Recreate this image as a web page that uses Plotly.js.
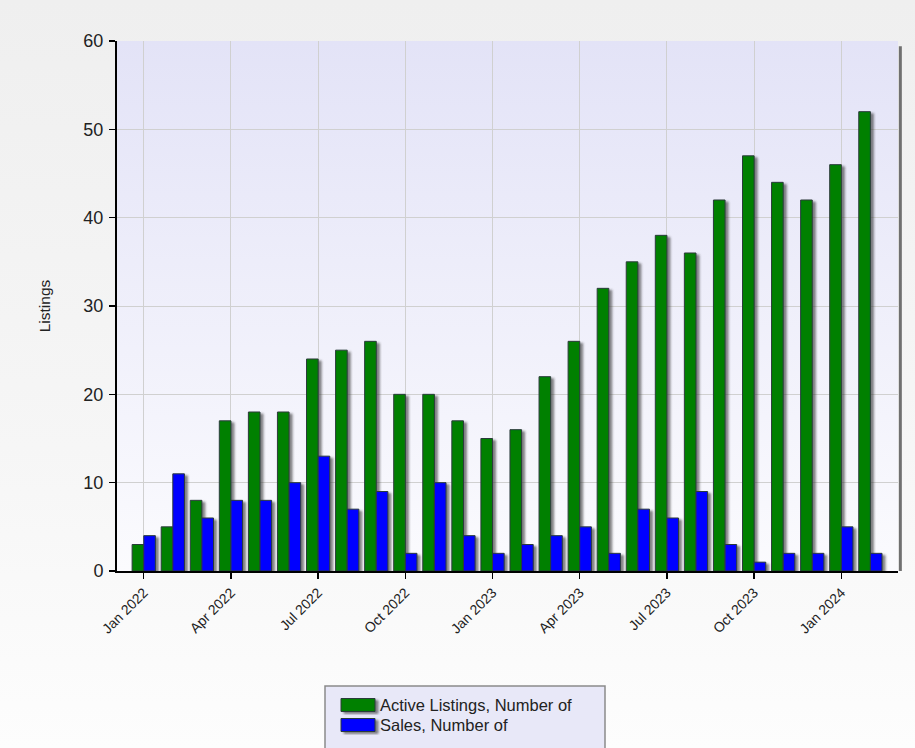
<!DOCTYPE html>
<html>
<head>
<meta charset="utf-8">
<script src="https://cdn.plot.ly/plotly-3.0.1.min.js"></script>
<style>
html, body { margin:0; padding:0; }
body { width:915px; height:748px; overflow:hidden; background: linear-gradient(to bottom, #efefef 0%, #f6f6f6 60%, #fdfdfd 100%); }
#chart { width:915px; height:748px; }
</style>
</head>
<body>
<div id="chart"></div>
<script>
const months = ['Jan 2022','Feb 2022','Mar 2022','Apr 2022','May 2022','Jun 2022','Jul 2022','Aug 2022','Sep 2022','Oct 2022','Nov 2022','Dec 2022',
  'Jan 2023','Feb 2023','Mar 2023','Apr 2023','May 2023','Jun 2023','Jul 2023','Aug 2023','Sep 2023','Oct 2023','Nov 2023','Dec 2023',
  'Jan 2024','Feb 2024'];
const activeListings = [3,5,8,17,18,18,24,25,26,20,20,17,15,16,22,26,32,35,38,36,42,47,44,42,46,52];
const sales = [4,11,6,8,8,10,13,7,9,2,10,4,2,3,4,5,2,7,6,9,3,1,2,2,5,2];
const tickLabels = ['Jan 2022','Apr 2022','Jul 2022','Oct 2022','Jan 2023','Apr 2023','Jul 2023','Oct 2023','Jan 2024'];
const yTicks = [0,10,20,30,40,50,60];

const gradSvg = "<svg xmlns='http://www.w3.org/2000/svg' width='10' height='100' preserveAspectRatio='none'>" +
  "<defs><linearGradient id='g' x1='0' y1='0' x2='0' y2='1'>" +
  "<stop offset='0' stop-color='#e3e3f7'/><stop offset='1' stop-color='#fbfbfe'/></linearGradient></defs>" +
  "<rect width='10' height='100' fill='url(#g)'/></svg>";
const gradUri = 'data:image/svg+xml;charset=utf-8,' + encodeURIComponent(gradSvg);

const traces = [
  { type:'bar', name:'Active Listings, Number of', x: months, y: activeListings,
    marker:{ color:'#008000', line:{ color:'#2b3b3b', width:1 } } },
  { type:'bar', name:'Sales, Number of', x: months, y: sales,
    marker:{ color:'#0000ff', line:{ color:'#2b3b3b', width:1 } } }
];

const layout = {
  width:915, height:748,
  margin:{ l:117, r:17, t:41, b:177 },
  paper_bgcolor:'rgba(0,0,0,0)',
  plot_bgcolor:'rgba(0,0,0,0)',
  font:{ family:'Liberation Sans, Arial, sans-serif', color:'#222' },
  barmode:'group', bargap:0.2, bargroupgap:0,
  showlegend:true,
  legend:{ x:(340-117)/781, xanchor:'left', y:-(674-571)/530, yanchor:'top', bgcolor:'rgba(0,0,0,0)',
    font:{ size:16.5, color:'#222' }, tracegroupgap:0 },
  xaxis:{ type:'category', range:[-0.92, 25.95], tickmode:'array', tickvals: tickLabels, ticktext: tickLabels,
    automargin:false,
    tickangle:-45, tickfont:{ size:14, color:'#222' }, ticks:'outside', ticklen:6, tickcolor:'#000', tickwidth:1.5,
    showline:true, linecolor:'#000', linewidth:2, showgrid:true, gridcolor:'#d0d0d0', gridwidth:1, zeroline:false },
  yaxis:{ range:[0,60], tickmode:'array', tickvals: yTicks, tickfont:{ size:18, color:'#222' },
    automargin:false, ticklabelstandoff:2,
    ticks:'outside', ticklen:6, tickcolor:'#000', tickwidth:1.5,
    showline:true, linecolor:'#000', linewidth:2, showgrid:true, gridcolor:'#d0d0d0', gridwidth:1, zeroline:false,
    title:{ text:'Listings', font:{ size:15.5, color:'#222' }, standoff:29 } },
  images:[{ source: gradUri, xref:'paper', yref:'paper', x:0, y:1, sizex:1, sizey:1,
    xanchor:'left', yanchor:'top', sizing:'stretch', layer:'below' }],
  shapes:[
    { type:'line', xref:'paper', yref:'paper', x0:1.003, x1:1.003, y0:0, y1:0.99, line:{ color:'#707070', width:3 } },
    { type:'rect', xref:'paper', yref:'paper', x0:(325-117)/781, x1:(605-117)/781, y0:-0.37, y1:-(686-571)/530,
      fillcolor:'#e8e8f8', line:{ color:'#8a8a8a', width:1.5 }, layer:'below' }
  ]
};

function getTranslate(el){
  const t = el.getAttribute('transform') || '';
  const m = /translate\(\s*([-\d.e]+)[ ,]+([-\d.e]+)\s*\)/.exec(t);
  return m ? [parseFloat(m[1]), parseFloat(m[2])] : [0,0];
}

Plotly.newPlot('chart', traces, layout, { staticPlot:true }).then(function(gd){
  const svg = gd.querySelector('svg.main-svg');
  const NS = 'http://www.w3.org/2000/svg';
  let defs = svg.querySelector('defs');
  if (!defs) { defs = document.createElementNS(NS,'defs'); svg.insertBefore(defs, svg.firstChild); }
  const f = document.createElementNS(NS,'filter');
  f.setAttribute('id','barshadow'); f.setAttribute('x','-20%'); f.setAttribute('y','-5%');
  f.setAttribute('width','160%'); f.setAttribute('height','130%');
  const ds = document.createElementNS(NS,'feDropShadow');
  ds.setAttribute('dx','3'); ds.setAttribute('dy','2'); ds.setAttribute('stdDeviation','1');
  ds.setAttribute('flood-color','#303030'); ds.setAttribute('flood-opacity','0.6');
  f.appendChild(ds); defs.appendChild(f);
  gd.querySelectorAll('.barlayer .trace.bars').forEach(function(g){ g.setAttribute('filter','url(#barshadow)'); });
  gd.querySelectorAll('.legend .legendpoints path').forEach(function(p){
    p.setAttribute('d','M15,6.5H-19V-6.5H15Z');
  });
  gd.querySelectorAll('.legend .legendpoints').forEach(function(g){ g.setAttribute('filter','url(#barshadow)'); });
  const items = gd.querySelectorAll('.legend .traces');
  const svgTop = svg.getBoundingClientRect().top;
  items.forEach(function(item, i){
    const p = item.querySelector('.legendpoints path');
    if (!p) return;
    const r = p.getBoundingClientRect();
    const cy = (r.top + r.bottom)/2 - svgTop;
    const want = 705 + 20*i;
    const tr = getTranslate(item);
    item.setAttribute('transform', 'translate(' + tr[0] + ',' + (tr[1] + want - cy) + ')');
  });
  const clip = gd.querySelector('.legend .scrollbox');
  if (clip) clip.removeAttribute('clip-path');
});
</script>
</body>
</html>
